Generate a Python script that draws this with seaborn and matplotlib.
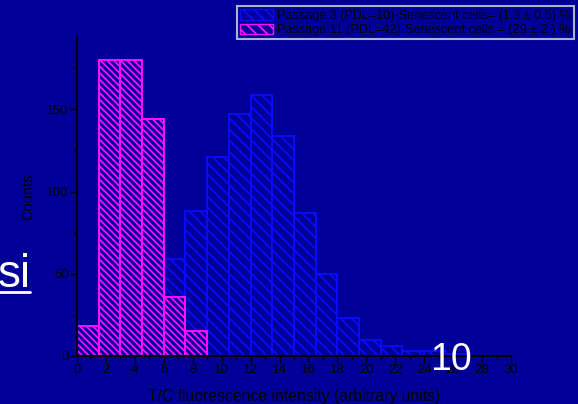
import numpy as np
import pandas as pd
import seaborn as sns
import matplotlib.pyplot as plt
from matplotlib.patches import Patch

# Histogram bins (T/C fluorescence, arbitrary units)
bin_edges = [0, 1.5, 3, 4.5, 6, 7.5, 9, 10.5, 12, 13.5, 15, 16.5, 18, 19.5, 21, 22.5, 24, 25.5, 27]

# Passage 3 (PDL=10) counts per bin, starting at bin 6-7.5
p3_bins_start = [6, 7.5, 9, 10.5, 12, 13.5, 15, 16.5, 18, 19.5, 21, 22.5, 24, 25.5]
p3_counts = [59, 88, 121, 147, 159, 134, 87, 50, 23, 10, 6, 3, 3, 1]

# Passage 11 (PDL=42) counts per bin, starting at bin 0-1.5
p11_bins_start = [0, 1.5, 3, 4.5, 6, 7.5]
p11_counts = [18, 180, 180, 144, 36, 15]

legend_labels = [
    "Passage 3 (PDL=10)-Senescent cells= (1.3 \u00b1 0.5) %",
    "Passage 11 (PDL=42)-Senescent cells = (29 \u00b1 2 ) %",
]
x_ticks = list(range(0, 31, 2))
y_ticks = [0, 50, 100, 150]

BG = "#000099"
BLUE = "#0a0aff"
MAGENTA = "#ff10ff"

sns.set_theme(style="white")
plt.rcParams["font.family"] = ["Liberation Sans", "DejaVu Sans"]
plt.rcParams["hatch.linewidth"] = 1.3

fig = plt.figure(figsize=(5.78, 4.04), dpi=100, facecolor=BG)
ax = fig.add_axes([77 / 578, 1 - 356 / 404, (511 - 77) / 578, (356 - 37) / 404])
ax.set_facecolor(BG)

width = 1.5
df3 = pd.DataFrame({"x": np.array(p3_bins_start) + width / 2, "w": p3_counts})
df11 = pd.DataFrame({"x": np.array(p11_bins_start) + width / 2, "w": p11_counts})

n0 = len(ax.patches)
sns.histplot(data=df3, x="x", weights="w", bins=bin_edges, ax=ax,
             color=BG, edgecolor=BLUE, linewidth=1.4, alpha=1)
for p in ax.patches[n0:]:
    p.set_facecolor(BG)
    p.set_edgecolor(BLUE)
    p.set_hatch("\\\\\\")

n1 = len(ax.patches)
sns.histplot(data=df11, x="x", weights="w", bins=bin_edges, ax=ax,
             color=BG, edgecolor=MAGENTA, linewidth=1.4, alpha=1)
for p in ax.patches[n1:]:
    p.set_facecolor(BG)
    p.set_edgecolor(MAGENTA)
    p.set_hatch("\\\\\\\\\\")

ax.set_xlim(0, 30)
ax.set_ylim(0, 194)
ax.set_xticks(x_ticks)
ax.set_xticks(range(0, 31, 1), minor=True)
ax.set_yticks(y_ticks)
ax.set_yticks(range(0, 194, 25), minor=True)
ax.tick_params(axis="both", which="major", direction="out", length=5, width=1,
               color="black", labelcolor="black", labelsize=9.5, pad=1, bottom=True, left=True)
ax.tick_params(axis="both", which="minor", direction="out", length=3, width=1,
               color="black", bottom=True, left=True)
for side in ("top", "right"):
    ax.spines[side].set_visible(False)
for side in ("left", "bottom"):
    ax.spines[side].set_color("black")
    ax.spines[side].set_linewidth(1.5)

ax.set_xlabel("T/C fluorescence intensity (arbitrary units)", color="black", fontsize=11.3, labelpad=9)
ax.set_ylabel("Counts", color="black", fontsize=10.5, labelpad=8)

handles = [
    Patch(facecolor=BG, edgecolor=BLUE, hatch="\\\\\\", linewidth=1),
    Patch(facecolor=BG, edgecolor=MAGENTA, hatch="\\\\\\", linewidth=1),
]
leg = fig.legend(handles, legend_labels, loc="upper left",
                 bbox_to_anchor=(237 / 578, 1 - 6 / 404), fontsize=9.1,
                 frameon=True, fancybox=False, facecolor=BG, edgecolor="#dddddd",
                 handlelength=2.6, handleheight=0.9, handletextpad=0.3,
                 borderpad=0.25, labelspacing=0.15, borderaxespad=0)
for t in leg.get_texts():
    t.set_color("black")
leg.get_frame().set_linewidth(1.5)

# slide text overlays
fig.text(-2 / 578, 1 - 287 / 404, "si", color="white", fontsize=33,
         ha="left", va="baseline")
fig.add_artist(plt.Line2D([0, 30 / 578], [1 - 292 / 404, 1 - 292 / 404],
                          color="white", linewidth=2, transform=fig.transFigure))
fig.text(430 / 578, 1 - 370 / 404, "10", color="white", fontsize=27,
         ha="left", va="baseline")

fig.savefig("out.png", dpi=100, facecolor=BG)
